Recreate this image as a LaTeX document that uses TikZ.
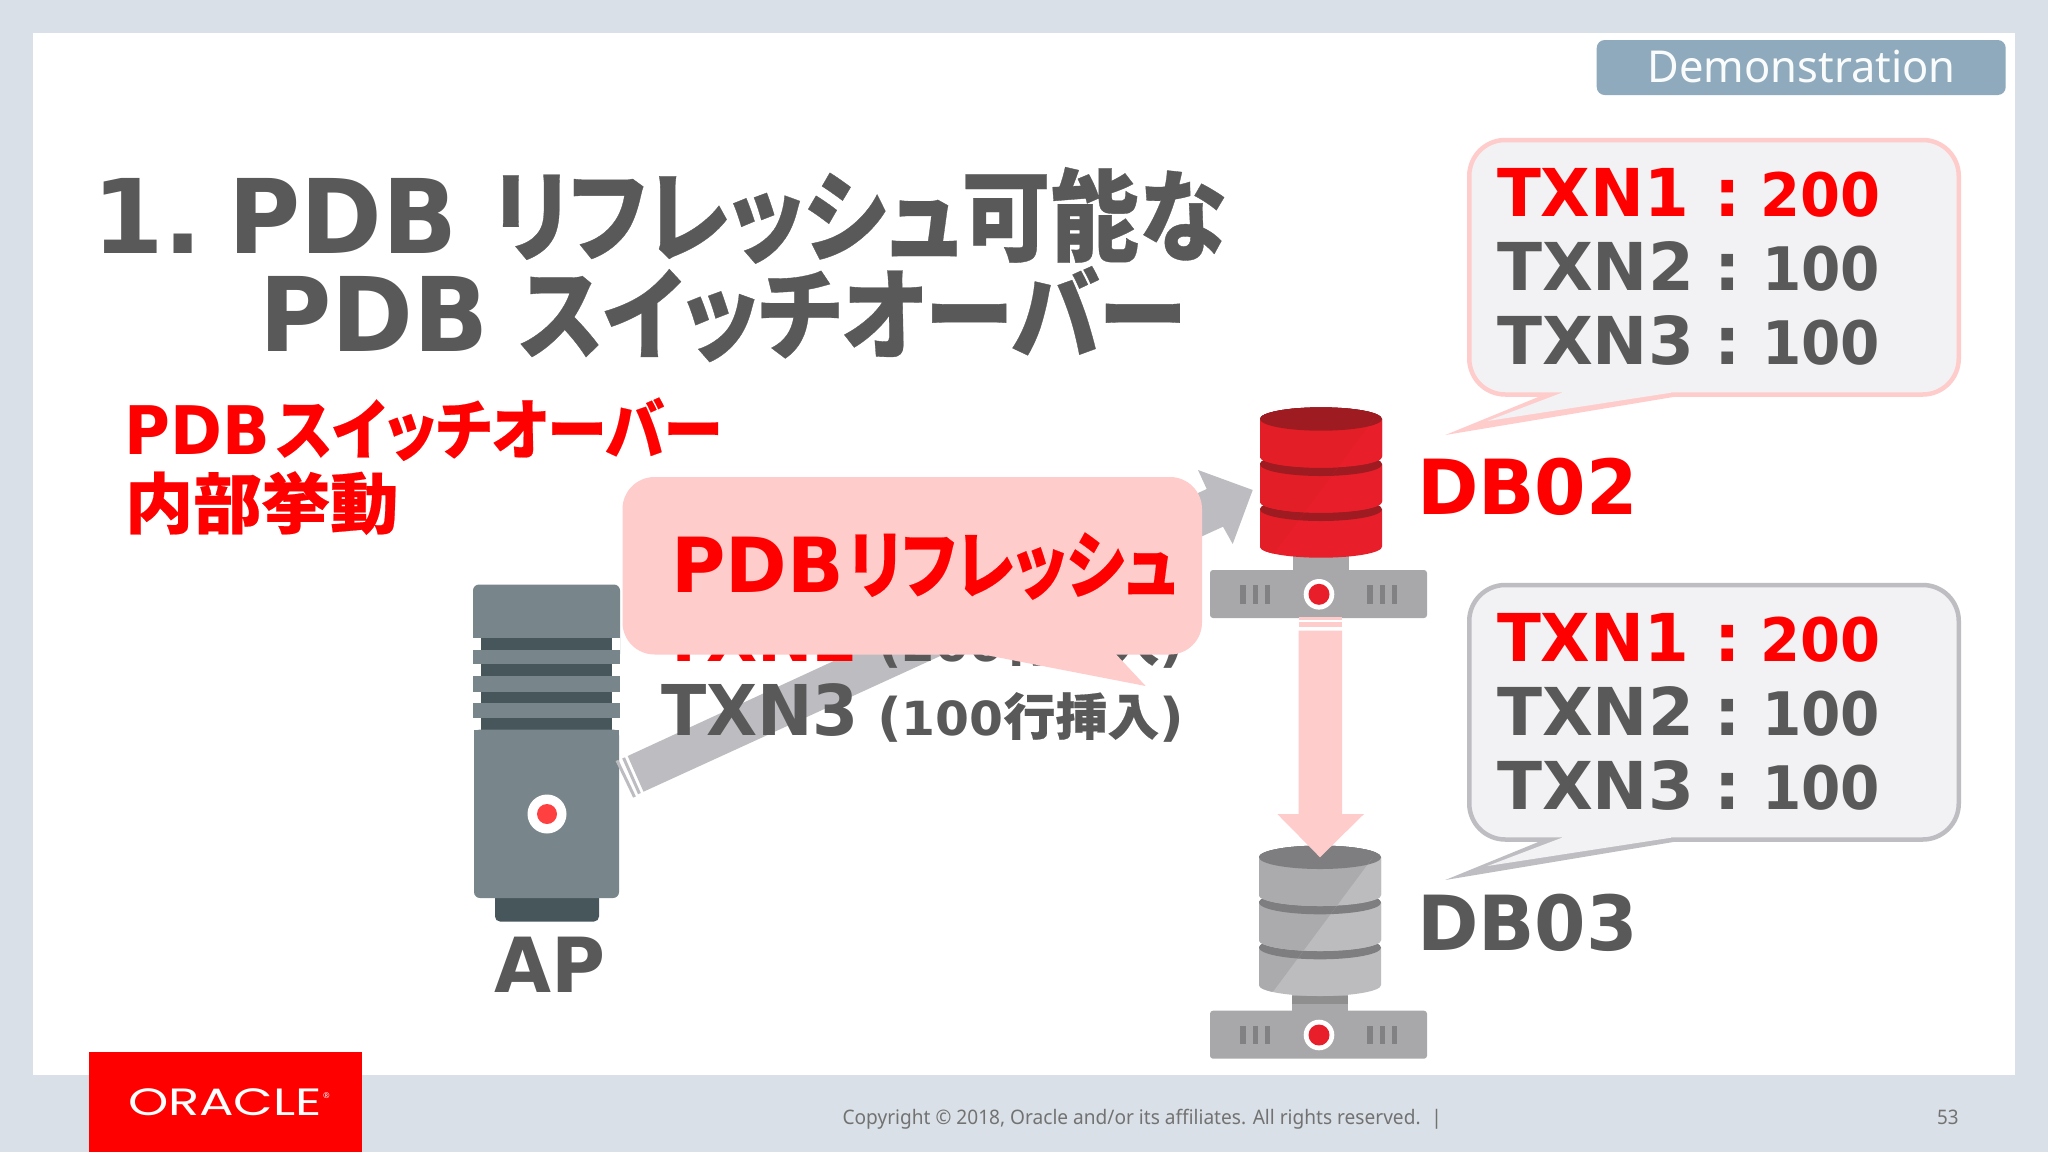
\documentclass[tikz,border=0pt]{standalone}
\usepackage{fontspec}
\usepackage{graphicx}
\setmainfont{Noto Sans}
\newfontfamily\jp{Noto Sans CJK JP}[RawFeature=+palt,BoldFeatures={FakeBold=0.35}]
\newfontfamily\latf{DejaVu Sans}
\newfontfamily\logofont{Poppins}
\definecolor{slidebg}{HTML}{DAE0E7}
\definecolor{oraclered}{HTML}{FF0000}
\definecolor{inkgray}{HTML}{595959}
\definecolor{pinkfill}{HTML}{FFCCCC}
\definecolor{arrowgray}{HTML}{BDBDC1}
\definecolor{badge}{HTML}{8FAABD}
\definecolor{apbody}{HTML}{78868B}
\definecolor{apdark}{HTML}{47565B}
\definecolor{dbred}{HTML}{E81F2A}
\definecolor{dbredb}{HTML}{E41E27}
\definecolor{dbreddark}{HTML}{9E1B21}
\definecolor{dbgray}{HTML}{BCBCBF}
\definecolor{dbgrayb}{HTML}{ABABAE}
\definecolor{dbgraydark}{HTML}{7E7E80}
\definecolor{basegray}{HTML}{A8A8AA}
\definecolor{basetick}{HTML}{818183}
\definecolor{neckstrip}{HTML}{8F8F90}
\definecolor{bubblefill}{HTML}{F2F2F4}
\definecolor{bubblegray}{HTML}{BEBEC2}
\newcommand\lat[2]{{\latf\fontsize{#1}{#1}\selectfont\bfseries #2}}
\newcommand\ja[2]{{\jp\fontsize{#1}{#1}\selectfont\bfseries #2}}
\newcommand\fitw[2]{\resizebox{#1pt}{\height}{#2}}
\newcommand\colonbox{\makebox[26pt][c]{\lat{66}{:}}}
\tikzset{
  txt/.style={anchor=base west,inner sep=0pt,outer sep=0pt},
}
% one disk of the database: top y, side bottom y
\newcommand\dbdisk[4]{%
  \fill[#3] (1260,#1) -- (1260,#2) arc[start angle=180,end angle=360,x radius=61pt,y radius=11pt] -- (1382,#1) -- cycle;
  \fill[#4] (1321,#1) ellipse[x radius=61pt,y radius=11.7pt];
}
\newcommand\dbstack[3]{%
  \dbdisk{509.3}{546.7}{#1}{#2}
  \dbdisk{464.3}{501.7}{#1}{#2}
  \dbdisk{419}{456.7}{#1}{#3}
}
\newcommand\dbsegs[3]{% light, dim, dark
  \dbstack{#1}{#3}{#3}
  \begin{scope}
    \clip (1250,400) -- (1382,408) -- (1275,552) -- (1250,570) -- cycle;
    \dbstack{#2}{#3}{#3}
  \end{scope}
  \begin{scope}
    \clip (1382,400) rectangle (1250,513);
    \dbdisk{464.3}{501.7}{#1}{#3}
    \clip (1382,408) -- (1250,408) -- (1250,570) -- (1275,552) -- cycle;
    \dbdisk{464.3}{501.7}{#2}{#3}
  \end{scope}
  \begin{scope}
    \dbdisk{419}{456.7}{#1}{#3}
    \clip (1382,408) -- (1250,408) -- (1250,570) -- (1275,552) -- cycle;
    \dbdisk{419}{456.7}{#2}{#3}
  \end{scope}
}
\newcommand\dbbase[1]{%
  \fill[basegray,rounded corners=3pt] (1210,#1) rectangle ++(217,48);
  \fill[white] (1319,#1+24.3) circle[radius=15.3pt];
  \fill[dbred] (1319,#1+24.3) circle[radius=10.5pt];
  \foreach \xx in {1240.3,1252.7,1265,1367.3,1379.7,1392}
    \fill[basetick] (\xx,#1+15) rectangle ++(5.3,18.5);
}
\newcommand\bubble[1]{%
  \draw[draw=#1,fill=bubblefill,line width=4.5pt,rounded corners=36pt] (1469.25,585) rectangle (1958.75,839.5);
  \fill[#1] (1539,841.7) -- (1445.3,880) -- (1675,841.7) -- cycle;
  \fill[bubblefill] (1562,835) -- (1562,837.7) -- (1487.4,866) -- (1671,837.7) -- (1671,835) -- cycle;
}
\newcommand\bubbletext[1]{%
  \node[txt,text=oraclered] (#1a) at (1497,661.7) {\fitw{192}{\lat{66}{TXN1}}\hspace{25.7pt}\colonbox\hspace{19.3pt}\fitw{120}{\lat{60}{200}}};
  \node[txt,text=inkgray] (#1b) at (1497,735.7) {\fitw{197}{\lat{66}{TXN2}}\hspace{20.7pt}\colonbox\hspace{21.3pt}\fitw{118}{\lat{60}{100}}};
  \node[txt,text=inkgray] (#1c) at (1497,809.3) {\fitw{197}{\lat{66}{TXN3}}\hspace{20.7pt}\colonbox\hspace{21.3pt}\fitw{118}{\lat{60}{100}}};
}
\begin{document}
\begin{tikzpicture}[x=1pt,y=-1pt]
\useasboundingbox (0,0) rectangle (2048,1152);
\fill[slidebg] (0,0) rectangle (2048,1152);
\fill[white] (33,33) rectangle (2015,1075);
% footer
\fill[oraclered] (89,1052) rectangle (362,1152);
\node[txt,text=white] (logo) at (128,1115) {\fitw{194}{{\logofont\fontsize{38}{38}\selectfont ORACLE}}};
\node[txt,text=white] (logoR) at (323,1098) {{\fontsize{8}{8}\selectfont ®}};
\node[txt,text=inkgray!85] (copy) at (842.6,1124.5) {\fitw{578}{{\fontsize{20}{20}\selectfont Copyright © 2018, Oracle and/or its affiliates. All rights reserved.}}};
\node[txt,text=inkgray!85] (bar) at (1431,1124.5) {{\fontsize{20}{20}\selectfont |}};
\node[txt,text=inkgray!85] (pageno) at (1937,1124.5) {\fitw{21.5}{{\fontsize{20}{20}\selectfont 53}}};
% badge
\fill[badge,rounded corners=8pt] (1596.7,40) rectangle (2005.7,95);
\node[txt,text=white!96!badge] (badgeT) at (1647.5,82.7) {\fitw{308}{{\fontsize{44}{44}\selectfont Demonstration}}};
% title
\node[txt,text=inkgray] (title1) at (92,253.3) {\lat{103}{1.}\hspace{26pt}\fitw{229}{\lat{103}{PDB}}\hspace{34.6pt}\fitw{733.4}{\ja{100}{リフレッシュ可能な}}};
\node[txt,text=inkgray] (title2) at (259,351.7) {\fitw{229.6}{\lat{103}{PDB}}\hspace{30.4pt}\fitw{667}{\ja{100}{スイッチオーバー}}};
\node[txt,text=oraclered] (sub1) at (124.5,454) {\fitw{145.5}{\lat{67}{PDB}}\hspace{6pt}\fitw{446}{\ja{66}{スイッチオーバー}}};
\node[txt,text=oraclered] (sub2) at (125,528) {\fitw{273.5}{\ja{66}{内部挙動}}};
% AP server
\fill[apbody,rounded corners=6pt] (473,584.5) rectangle (620,660);
\fill[white] (473,638) rectangle (620,660);
\fill[apdark] (481,638) rectangle (612,735);
\foreach \ya/\yb in {650/664,676/692,703/718}
  \fill[apbody] (473,\ya) rectangle (620,\yb);
\fill[apdark,rounded corners=5pt] (495,890) rectangle (599,921.5);
\fill[apbody,rounded corners=6pt] (474,729.5) rectangle (619,898);
\fill[apbody] (474,729.5) rectangle (619,750);
\fill[white] (547,814) circle[radius=19.5pt];
\fill[red!75!white] (547,814) circle[radius=10pt];
\node[txt,text=inkgray] (ap) at (494,992.5) {\fitw{111}{\lat{76}{AP}}};
% gray arrow AP -> DB02
\fill[arrowgray] (627.7,756) -- (1206.7,489) -- (1198,470) -- (1252.7,490) -- (1232.7,544) -- (1223,526.7) -- (643.5,791.7) -- cycle;
\draw[arrowgray,line width=3pt] (623.6,757.9) -- (639.4,793.6);
\draw[arrowgray,line width=3pt] (617,760.4) -- (634.5,797);
% TXN text
\node[txt,text=oraclered] (txn2) at (661,661) {\fitw{198}{\lat{70}{TXN2}}};
\node[txt,text=inkgray] (txn2b) at (877,661) {\fitw{307}{\lat{52}{(}\lat{47}{200}\ja{50}{行挿入}\lat{52}{)}}};
\node[txt,text=inkgray] (txn3) at (661,735) {\fitw{198}{\lat{70}{TXN3}}};
\node[txt,text=inkgray] (txn3b) at (877,735) {\fitw{307}{\lat{52}{(}\lat{47}{100}\ja{50}{行挿入}\lat{52}{)}}};
% callout
\fill[pinkfill,rounded corners=32pt] (622.5,477) rectangle (1202,654.5);
\fill[pinkfill] (960,650) -- (1145.7,686) -- (1112,650) -- cycle;
\node[txt,text=oraclered] (refresh) at (671.5,592) {\fitw{172.5}{\lat{76}{PDB}}\hspace{4pt}\fitw{329.5}{\ja{74}{リフレッシュ}}};
% DB02
\fill[basegray] (1293.3,550) rectangle (1348.7,572);
\dbsegs{dbred}{dbredb}{dbreddark}
\dbbase{570}
\node[txt,text=oraclered] (db02) at (1417,514) {\fitw{221}{\lat{76}{DB02}}};
% DB03
\begin{scope}[shift={(-1,438.3)}]
  \fill[basegray] (1293.3,550) rectangle (1348.7,574);
  \fill[neckstrip] (1293.3,558) rectangle (1348.7,566);
  \dbsegs{dbgray}{dbgrayb}{dbgraydark}
\end{scope}
\dbbase{1010.7}
\node[txt,text=inkgray] (db03) at (1417,950) {\fitw{221}{\lat{76}{DB03}}};
% pink arrow DB02 -> DB03
\fill[pinkfill] (1298.7,616.7) rectangle (1342,620);
\fill[pinkfill] (1298.7,622.3) rectangle (1342,627.3);
\fill[pinkfill] (1298.7,630.7) -- (1342,630.7) -- (1342,814) -- (1364,814) -- (1320,857.3) -- (1277.3,814) -- (1298.7,814) -- cycle;
% bubbles
\begin{scope}[shift={(0,-445)}]
  \bubble{pinkfill}
  \bubbletext{u}
\end{scope}
\bubble{bubblegray}
\bubbletext{l}
\end{tikzpicture}
\end{document}
